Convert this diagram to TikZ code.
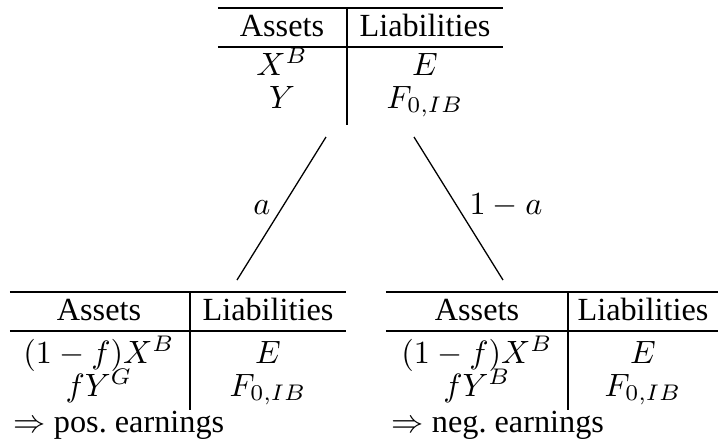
\documentclass[tikz,border=0pt]{standalone}
\usepackage[no-math]{fontspec}
\setmainfont{Liberation Serif}
\begin{document}
\begin{tikzpicture}[x=0.31pt,y=-0.31pt,
  txt/.style={anchor=base,inner sep=0pt,font=\fontsize{10}{12}\selectfont},
  ltxt/.style={anchor=base west,inner sep=0pt,font=\fontsize{10}{12}\selectfont},
  rule/.style={line width=0.4pt},
  branch/.style={line width=0.4pt}]
\useasboundingbox (0,0) rectangle (718,443);
% ---------- top table ----------
\draw[rule] (218,8) -- (503,8);
\draw[rule] (218,47) -- (503,47);
\draw[rule] (347,8) -- (347,125);
\node[txt] (tA) at (282,36) {Assets};
\node[txt] (tL) at (425,36) {Liabilities};
\node[txt] (tX) at (282,75) {$X^B$};
\node[txt] (tE) at (425,75) {$E$};
\node[txt] (tY) at (282,108) {$Y$};
\node[txt] (tF) at (425,108) {$F_{0,IB}$};
% ---------- branches ----------
\coordinate (lt) at (326,137);
\coordinate (lb) at (237,280);
\coordinate (rt) at (414,137);
\coordinate (rb) at (503,280);
\draw[branch] (lt) -- (lb);
\draw[branch] (rt) -- (rb);
\node[txt] (pa) at (262,214) {$a$};
\node[txt] (pb) at (506,214) {$1-a$};
% ---------- bottom left table ----------
\draw[rule] (10,292) -- (346,292);
\draw[rule] (10,331) -- (346,331);
\draw[rule] (190,292) -- (190,410);
\node[txt] (lA) at (99,320) {Assets};
\node[txt] (lL) at (268,320) {Liabilities};
\node[txt] (lX) at (99,363) {$(1-f)X^B$};
\node[txt] (lE) at (268,363) {$E$};
\node[txt] (lY) at (99,396) {$fY^G$};
\node[txt] (lF) at (268,396) {$F_{0,IB}$};
\node[ltxt] (lR) at (13,432) {$\Rightarrow$ pos.\ earnings};
% ---------- bottom right table ----------
\draw[rule] (386,292) -- (718,292);
\draw[rule] (386,331) -- (718,331);
\draw[rule] (568,292) -- (568,410);
\node[txt] (rA) at (477,320) {Assets};
\node[txt] (rL) at (643,320) {Liabilities};
\node[txt] (rX) at (477,363) {$(1-f)X^B$};
\node[txt] (rE) at (643,363) {$E$};
\node[txt] (rY) at (477,396) {$fY^B$};
\node[txt] (rF) at (643,396) {$F_{0,IB}$};
\node[ltxt] (rR) at (391,432) {$\Rightarrow$ neg.\ earnings};
\end{tikzpicture}
\end{document}
